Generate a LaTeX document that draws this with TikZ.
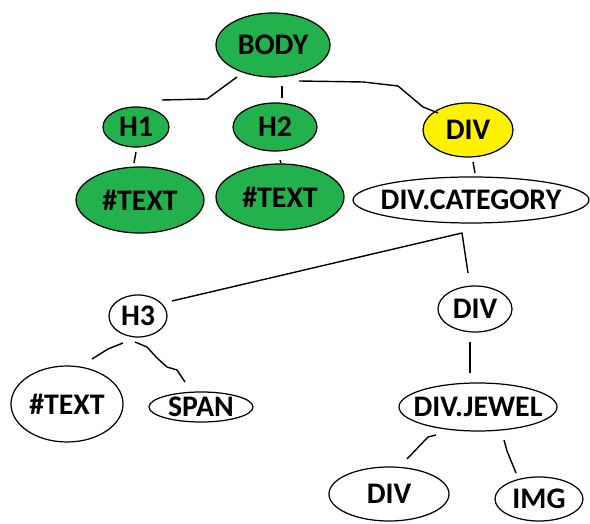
\documentclass[tikz,border=0pt]{standalone}
\usepackage{fontspec}
\setmainfont{Carlito}
\usetikzlibrary{positioning, shapes.geometric}

\definecolor{paintgruen}{HTML}{22B14C}
\definecolor{paintgelb}{HTML}{FFF200}

\tikzset{
  knoten/.style={ellipse, draw, line width=0.7pt, inner xsep=-1cm, inner ysep=0pt,
    font=\bfseries\fontsize{17}{17}\selectfont},
  gruen/.style={knoten, fill=paintgruen},
  gelb/.style={knoten, fill=paintgelb},
  strich/.style={line width=0.8pt, line join=round}
}

\begin{document}
\begin{tikzpicture}

\useasboundingbox (0,0) rectangle (11.8,10.48);

% Knoten oben
\node[gruen, minimum width=2.28cm, minimum height=1.28cm] (body) at (5.46,9.58) {BODY};
\node[gruen, minimum width=1.32cm, minimum height=0.80cm] (h1) at (2.72,7.94) {H1};
\node[gruen, minimum width=1.68cm, minimum height=0.96cm] (h2) at (5.50,7.94) {H2};
\node[gelb, minimum width=1.80cm, minimum height=1.08cm] (div) at (9.36,7.88) {DIV};

\node[gruen, minimum width=2.56cm, minimum height=1.32cm] (text1) at (2.80,6.48) {\#TEXT};
\node[gruen, minimum width=2.56cm, minimum height=1.32cm] (text2) at (5.60,6.54) {\#TEXT};
\node[knoten, minimum width=4.72cm, minimum height=0.92cm] (cat) at (9.42,6.48) {DIV.CATEGORY};

% Knoten unten
\node[knoten, minimum width=1.16cm, minimum height=0.84cm] (h3) at (2.76,4.16) {H3};
\node[knoten, minimum width=1.48cm, minimum height=0.92cm] (div2) at (9.50,4.30) {DIV};

\node[knoten, minimum width=2.24cm, minimum height=1.52cm] (text3) at (1.34,2.40) {\#TEXT};
\node[knoten, minimum width=2.08cm, minimum height=0.60cm] (span) at (4.02,2.34) {SPAN};
\node[knoten, minimum width=3.16cm, minimum height=0.96cm] (jewel) at (9.56,2.34) {DIV.JEWEL};

\node[knoten, minimum width=2.40cm, minimum height=1.08cm] (div3) at (7.78,0.60) {DIV};
\node[knoten, minimum width=1.76cm, minimum height=0.88cm] (img) at (10.78,0.50) {IMG};

% Koordinaten fuer Striche
\coordinate (A1) at (4.74,8.94);
\coordinate (A2) at (4.14,8.50);
\coordinate (A3) at (3.24,8.48);

\coordinate (B1) at (5.64,8.76);
\coordinate (B2) at (5.64,8.52);

\coordinate (C1) at (5.98,8.86);
\coordinate (C2) at (7.26,8.84);
\coordinate (C3) at (7.96,8.76);
\coordinate (C4) at (8.46,8.34);
\coordinate (C5) at (8.76,8.22);

\coordinate (D1) at (2.72,7.44);
\coordinate (D2) at (2.68,7.22);

\coordinate (E1) at (5.60,7.28);
\coordinate (E2) at (5.62,7.22);

\coordinate (F1) at (9.46,7.24);
\coordinate (F2) at (9.50,7.02);

\coordinate (G1) at (3.44,4.46);
\coordinate (G2) at (9.24,5.82);
\coordinate (G3) at (9.36,5.02);

\coordinate (H1) at (9.40,3.64);
\coordinate (H2) at (9.40,3.02);

\coordinate (I1) at (2.46,3.62);
\coordinate (I2) at (2.16,3.50);
\coordinate (I3) at (1.84,3.30);

\coordinate (J1) at (2.70,3.64);
\coordinate (J2) at (2.94,3.54);
\coordinate (J3) at (3.14,3.32);
\coordinate (J4) at (3.34,3.14);
\coordinate (J5) at (3.54,3.08);
\coordinate (J6) at (3.70,2.84);

\coordinate (K1) at (8.72,1.78);
\coordinate (K2) at (8.56,1.74);
\coordinate (K3) at (8.14,1.30);

\coordinate (L1) at (10.08,1.68);
\coordinate (L2) at (10.14,1.46);
\coordinate (L3) at (10.32,1.02);

% Verbindungen oben
\draw[strich] (A1) -- (A2) -- (A3);
\draw[strich] (B1) -- (B2);
\draw[strich] (C1) -- (C2) -- (C3) -- (C4) -- (C5);
\draw[strich] (D1) -- (D2);
\draw[strich] (E1) -- (E2);
\draw[strich] (F1) -- (F2);

% Verbindungen unten
\draw[strich] (G1) -- (G2) -- (G3);
\draw[strich] (H1) -- (H2);
\draw[strich] (I1) -- (I2) -- (I3);
\draw[strich] (J1) -- (J2) -- (J3) -- (J4) -- (J5) -- (J6);
\draw[strich] (K1) -- (K2) -- (K3);
\draw[strich] (L1) -- (L2) -- (L3);

\end{tikzpicture}
\end{document}
